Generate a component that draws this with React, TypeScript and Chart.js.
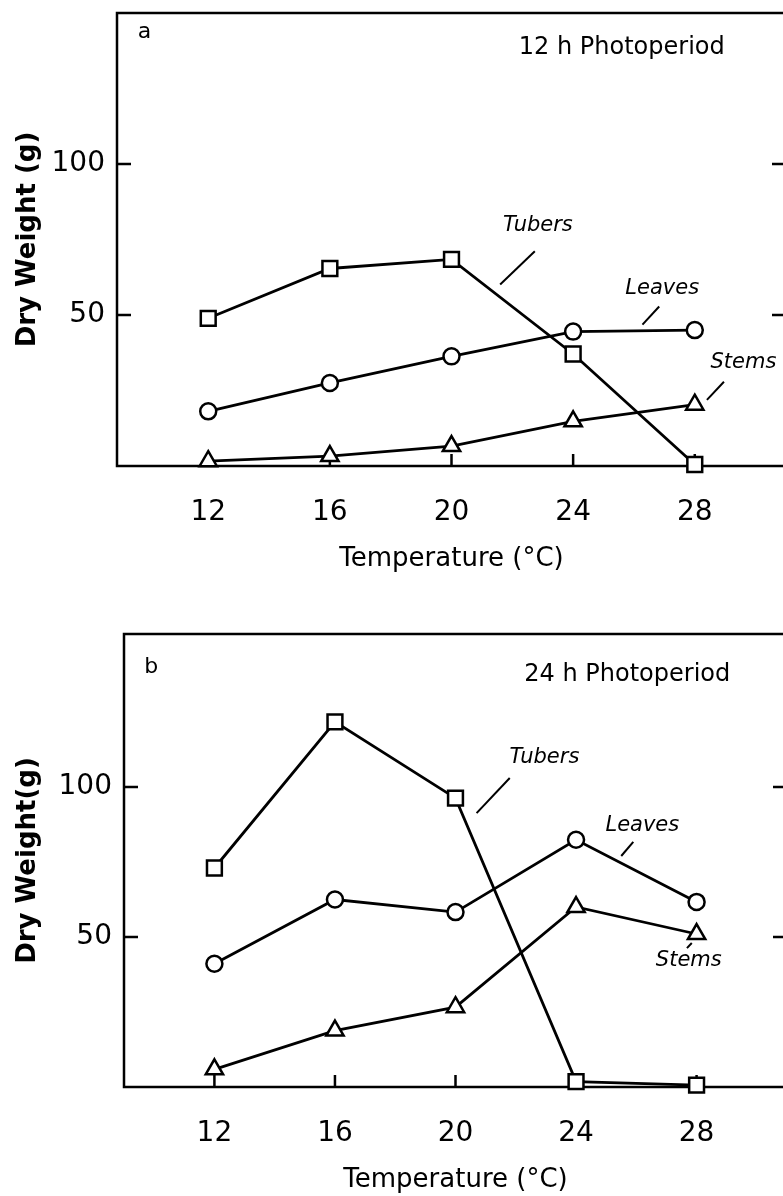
import React, { useEffect, useRef } from "react";
import { Chart, registerables } from "chart.js";
Chart.register(...registerables);

// ---- data ----
const temperatures = [12, 16, 20, 24, 28];
const xTickValues = [12, 16, 20, 24, 28];
const yTickValues = [50, 100];
const seriesNames = ["Tubers", "Leaves", "Stems"];

// Panel a: 12 h photoperiod
const tubersA = [48.9, 65.4, 68.4, 37.1, 0.5];
const leavesA = [18.1, 27.5, 36.3, 44.5, 45.0];
const stemsA = [1.6, 3.3, 6.6, 14.8, 20.3];

// Panel b: 24 h photoperiod
const tubersB = [73.0, 121.7, 96.3, 1.8, 0.6];
const leavesB = [41.1, 62.5, 58.3, 82.4, 61.7];
const stemsB = [5.9, 18.8, 26.6, 60.0, 51.0];

// annotation anchors, in data units [x, y]
const labelPosA = [[22.84, 79.6], [26.93, 58.6], [29.6, 34.2]];
const leaderA = [[22.74, 71.1, 21.6, 60.1], [26.83, 52.8, 26.28, 46.8], [28.96, 27.9, 28.4, 21.9]];
const labelPosB = [[22.95, 109.7], [26.2, 87.3], [27.74, 42.3]];
const leaderB = [[21.8, 103.0, 20.7, 91.3], [25.9, 81.7, 25.5, 77.0], [27.84, 48.0, 27.68, 46.3]];

const FONT = '"DejaVu Sans", "Noto Sans", sans-serif';

const decorPlugin = {
  id: "decor",
  beforeDatasetsDraw(chart: any) {
    const { ctx, chartArea: ca, scales } = chart;
    const x = scales.x, y = scales.y;
    ctx.save();
    ctx.strokeStyle = "#000";
    ctx.lineWidth = 2.5;
    ctx.strokeRect(ca.left, ca.top, ca.right - ca.left, ca.bottom - ca.top);
    ctx.beginPath();
    for (const v of yTickValues) {
      const py = y.getPixelForValue(v);
      ctx.moveTo(ca.left, py); ctx.lineTo(ca.left + 14, py);
      ctx.moveTo(ca.right - 14, py); ctx.lineTo(ca.right, py);
    }
    for (const v of xTickValues) {
      const px = x.getPixelForValue(v);
      ctx.moveTo(px, ca.bottom); ctx.lineTo(px, ca.bottom - 12);
    }
    ctx.stroke();
    ctx.restore();
  },
  afterDatasetsDraw(chart: any, _args: any, opts: any) {
    const { ctx, scales } = chart;
    const x = scales.x, y = scales.y;
    ctx.save();
    ctx.fillStyle = "#000";
    ctx.strokeStyle = "#000";
    ctx.textAlign = "center";
    ctx.textBaseline = "middle";
    ctx.font = `22px ${FONT}`;
    ctx.fillText(opts.letter, x.getPixelForValue(opts.letterAt[0]), y.getPixelForValue(opts.letterAt[1]));
    ctx.font = `24px ${FONT}`;
    ctx.fillText(opts.title, x.getPixelForValue(opts.titleAt[0]), y.getPixelForValue(opts.titleAt[1]));
    ctx.font = `italic 21px ${FONT}`;
    seriesNames.forEach((n, i) => {
      const p = opts.labels[i];
      ctx.fillText(n, x.getPixelForValue(p[0]), y.getPixelForValue(p[1]));
      const l = opts.leaders[i];
      ctx.lineWidth = 2;
      ctx.beginPath();
      ctx.moveTo(x.getPixelForValue(l[0]), y.getPixelForValue(l[1]));
      ctx.lineTo(x.getPixelForValue(l[2]), y.getPixelForValue(l[3]));
      ctx.stroke();
    });
    ctx.restore();
  },
};

function makeConfig(p: any) {
  const ds = (label: string, data: number[], style: string, r: number) => ({
    label,
    data: data.map((v, i) => ({ x: temperatures[i], y: v })),
    borderColor: "#000",
    backgroundColor: "#fff",
    borderWidth: 2.8,
    pointStyle: style,
    pointRadius: r,
    pointBorderWidth: 2.5,
    pointBackgroundColor: "#fff",
    pointBorderColor: "#000",
    tension: 0,
    clip: false,
  });
  return {
    type: "line",
    data: {
      datasets: [
        ds("Tubers", p.tubers, "rect", 10.5),
        ds("Leaves", p.leaves, "circle", 8),
        ds("Stems", p.stems, "triangle", 10),
      ],
    },
    plugins: [decorPlugin],
    options: {
      responsive: false,
      animation: false,
      events: [],
      layout: { padding: { top: p.padTop, right: p.padRight, left: 0, bottom: 0 } },
      plugins: {
        legend: { display: false },
        tooltip: { enabled: false },
        decor: {
          letter: p.letter, letterAt: p.letterAt,
          title: p.title, titleAt: p.titleAt,
          labels: p.labels, leaders: p.leaders,
        },
      },
      scales: {
        x: {
          type: "linear",
          min: 9, max: 31,
          afterBuildTicks: (s: any) => { s.ticks = xTickValues.map((v) => ({ value: v })); },
          afterFit: (s: any) => {
            s.height = p.xHeight;
            s.paddingLeft = 0; s.paddingRight = 0;
          },
          grid: { display: false, drawTicks: false },
          border: { display: false },
          ticks: { color: "#000", font: { family: FONT, size: 28 }, padding: 30, maxRotation: 0 },
          title: {
            display: true, text: "Temperature (°C)", color: "#000",
            font: { family: FONT, size: 26 }, padding: { top: 0, bottom: 25 },
          },
        },
        y: {
          type: "linear",
          min: 0, max: p.yMax,
          afterBuildTicks: (s: any) => { s.ticks = yTickValues.map((v) => ({ value: v })); },
          afterFit: (s: any) => {
            s.width = p.yWidth;
            s.paddingTop = 0; s.paddingBottom = 0;
          },
          grid: { display: false, drawTicks: false },
          border: { display: false },
          ticks: { color: "#000", font: { family: FONT, size: 28 }, padding: 12 },
          title: {
            display: true, text: p.yTitle, color: "#000",
            font: { family: FONT, size: 26, weight: "bold" }, padding: { top: 13, bottom: 0 },
          },
        },
      },
    },
  };
}

const panelA = {
  tubers: tubersA, leaves: leavesA, stems: stemsA,
  yMax: 150, padTop: 12, padRight: 14, yWidth: 117, xHeight: 134,
  letter: "a", letterAt: [9.9, 143.5],
  title: "12 h Photoperiod", titleAt: [25.6, 138.6],
  labels: labelPosA, leaders: leaderA, yTitle: "Dry Weight (g)",
};
const panelB = {
  tubers: tubersB, leaves: leavesB, stems: stemsB,
  yMax: 151, padTop: 12, padRight: 12, yWidth: 124, xHeight: 134,
  letter: "b", letterAt: [9.9, 140.0],
  title: "24 h Photoperiod", titleAt: [25.7, 137.3],
  labels: labelPosB, leaders: leaderB, yTitle: "Dry Weight(g)",
};

function Panel({ cfg, top }: { cfg: any; top: number }) {
  const ref = useRef<HTMLCanvasElement | null>(null);
  useEffect(() => {
    if (!ref.current) return;
    const chart = new Chart(ref.current, makeConfig(cfg) as any);
    return () => chart.destroy();
  }, []);
  return (
    <canvas
      ref={ref}
      width={800}
      height={600}
      style={{ position: "absolute", left: 0, top, width: 800, height: 600 }}
    />
  );
}

export default function App() {
  return (
    <div
      style={{
        position: "fixed", left: 0, top: 0, width: 783, height: 1196,
        overflow: "hidden", background: "#fff",
      }}
    >
      <Panel cfg={panelA} top={0} />
      <Panel cfg={panelB} top={621} />
    </div>
  );
}
